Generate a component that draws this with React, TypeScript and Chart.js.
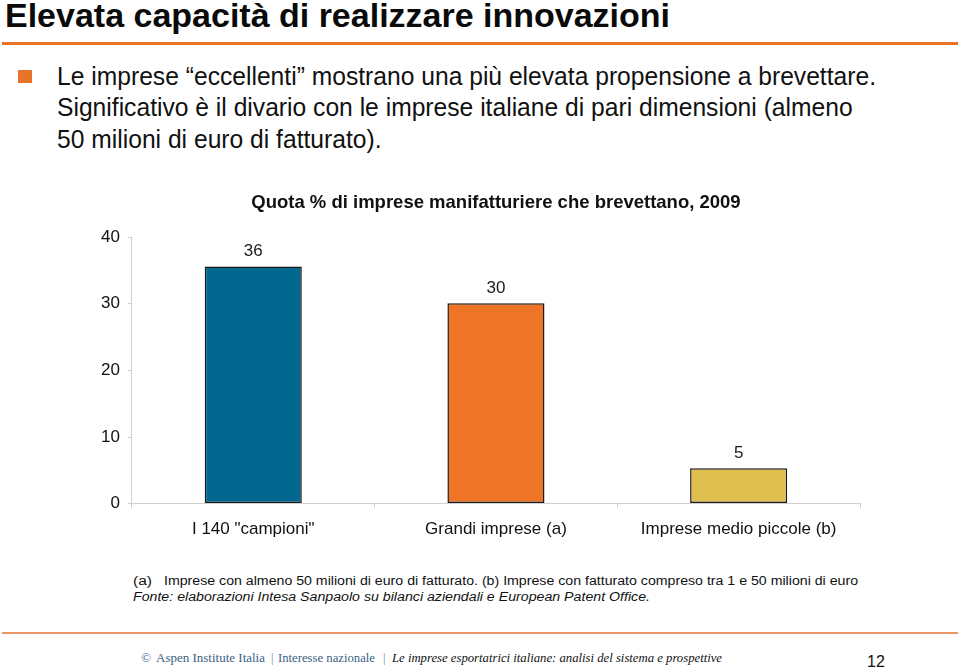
import React, { useEffect, useRef } from "react";
import { Chart, registerables } from "chart.js";

Chart.register(...registerables);

// ---- data ----
const categories = ['I 140 "campioni"', "Grandi imprese (a)", "Imprese medio piccole (b)"];
const values = [35.6, 30.1, 5.3];
const valueLabels = ["36", "30", "5"];
const barColors = ["#02688F", "#EF7526", "#DFBF50"];
const yTicks = [0, 10, 20, 30, 40];
const chartTitle = "Quota % di imprese manifatturiere che brevettano, 2009";
const pageTitle = "Elevata capacità di realizzare innovazioni";
const bulletLines = [
  "Le imprese \u201Ceccellenti\u201D mostrano una più elevata propensione a brevettare.",
  "Significativo è il divario con le imprese italiane di pari dimensioni (almeno",
  "50 milioni di euro di fatturato).",
];
const noteA = "(a)";
const noteText =
  "Imprese con almeno 50 milioni di euro di fatturato. (b) Imprese con fatturato compreso tra 1 e 50 milioni di euro";
const sourceText =
  "Fonte: elaborazioni Intesa Sanpaolo su bilanci aziendali e European Patent Office.";
const footerParts = [
  "\u00A9",
  "Aspen Institute Italia",
  "|",
  "Interesse nazionale",
  "|",
  "Le imprese esportatrici italiane: analisi del sistema e prospettive",
];
const pageNumber = "12";

const SANS = '"Liberation Sans", Arial, Helvetica, sans-serif';
const SERIF = '"Liberation Serif", "Times New Roman", serif';

let mctx: CanvasRenderingContext2D | null = null;
function measure(text: string, font: string): number {
  if (!mctx) mctx = document.createElement("canvas").getContext("2d");
  if (!mctx) return text.length * 8;
  mctx.font = font;
  return mctx.measureText(text).width;
}

type FitProps = {
  text: string;
  x: number;
  baseline: number;
  size: number;
  width?: number;
  scale?: number;
  bold?: boolean;
  italic?: boolean;
  family?: string;
  color?: string;
};

function fontString(size: number, bold?: boolean, italic?: boolean, family = SANS) {
  return `${italic ? "italic " : ""}${bold ? "bold " : ""}${size}px ${family}`;
}

function FitText({ text, x, baseline, size, width, scale, bold, italic, family = SANS, color = "#111" }: FitProps) {
  let sx = scale ?? 1;
  if (width !== undefined) {
    const w = measure(text, fontString(size, bold, italic, family));
    sx = w > 0 ? width / w : 1;
  }
  const top = baseline - (family === SERIF ? 0.8375 : 0.8465) * size;
  return (
    <div
      style={{
        position: "absolute",
        left: x,
        top,
        fontFamily: family,
        fontSize: size,
        lineHeight: `${size}px`,
        fontWeight: bold ? "bold" : "normal",
        fontStyle: italic ? "italic" : "normal",
        color,
        whiteSpace: "nowrap",
        transform: `scaleX(${sx})`,
        transformOrigin: "left top",
      }}
    >
      {text}
    </div>
  );
}

function BarChart() {
  const ref = useRef<HTMLCanvasElement | null>(null);
  useEffect(() => {
    if (!ref.current) return;
    const labelPlugin = {
      id: "valueLabels",
      afterDatasetsDraw(chart: any) {
        const ctx = chart.ctx;
        const meta = chart.getDatasetMeta(0);
        ctx.save();
        ctx.font = `17px ${SANS}`;
        ctx.fillStyle = "#1a1a1a";
        ctx.textAlign = "center";
        ctx.textBaseline = "middle";
        meta.data.forEach((el: any, i: number) => {
          ctx.fillText(valueLabels[i], el.x, el.y - 15);
        });
        ctx.restore();
      },
    };
    const chart = new Chart(ref.current, {
      type: "bar",
      data: {
        labels: categories,
        datasets: [
          {
            data: values,
            backgroundColor: barColors,
            borderColor: "#1a1a1a",
            borderWidth: 1.5,
            borderSkipped: false,
            barPercentage: 0.5,
            categoryPercentage: 0.8,
          },
        ],
      },
      options: {
        responsive: false,
        animation: false,
        devicePixelRatio: 1,
        layout: { padding: { left: 93, right: 100, top: 12, bottom: 11 } },
        plugins: {
          legend: { display: false },
          tooltip: { enabled: false },
          title: {
            display: true,
            text: chartTitle,
            fullSize: false,
            color: "#111",
            font: { family: SANS, size: 18.5, weight: "bold", lineHeight: 1.2 },
            padding: { top: 0, bottom: 23 },
          },
        },
        scales: {
          x: {
            grid: { offset: true, drawOnChartArea: false, drawTicks: true, tickLength: 4, color: "#cfcfcf" },
            border: { color: "#cfcfcf" },
            ticks: { color: "#111", font: { family: SANS, size: 17 }, padding: 12, maxRotation: 0, autoSkip: false },
          },
          y: {
            min: 0,
            max: 40,
            afterBuildTicks: (s: any) => {
              s.ticks = yTicks.map((v) => ({ value: v }));
            },
            ticks: { color: "#111", font: { family: SANS, size: 17 }, padding: 8 },
            grid: { drawOnChartArea: false, drawTicks: true, tickLength: 4, color: "#cfcfcf" },
            border: { color: "#cfcfcf" },
          },
        },
      },
      plugins: [labelPlugin],
    } as any);
    return () => chart.destroy();
  }, []);
  return (
    <canvas
      ref={ref}
      width={960}
      height={383}
      style={{ position: "absolute", left: 0, top: 180, width: 960, height: 383 }}
    />
  );
}

export default function App() {
  const bulletSize = 25;
  const bulletScale = 819 / measure(bulletLines[0], fontString(bulletSize));
  const bulletBaselines = [85, 116.5, 148];
  const footerX = [141, 156, 271, 278, 383, 392];
  const footerW = [10, 109, 3, 97, 3, 330];
  return (
    <div
      style={{
        position: "absolute",
        left: 0,
        top: 0,
        width: 960,
        height: 672,
        background: "#ffffff",
        overflow: "hidden",
      }}
    >
      <FitText text={pageTitle} x={5} baseline={27} size={33} width={665} bold color="#0a0a0a" />
      <div style={{ position: "absolute", left: 2, top: 42, width: 956, height: 3, background: "#E8732A" }} />
      <div style={{ position: "absolute", left: 18, top: 70, width: 14, height: 13, background: "#E8732A" }} />
      {bulletLines.map((t, i) => (
        <FitText key={i} text={t} x={57} baseline={bulletBaselines[i]} size={bulletSize} scale={bulletScale} color="#111" />
      ))}
      <BarChart />
      <FitText text={noteA} x={133} baseline={585.5} size={12.5} width={19} color="#111" />
      <FitText text={noteText} x={164} baseline={585.5} size={12.5} width={694} color="#111" />
      <FitText text={sourceText} x={133} baseline={601.5} size={12.5} width={517} italic color="#111" />
      <div style={{ position: "absolute", left: 2, top: 632, width: 956, height: 2, background: "#E9976A" }} />
      {footerParts.map((t, i) => (
        <FitText
          key={i}
          text={t}
          x={footerX[i]}
          baseline={662.5}
          size={12.5}
          width={i === 2 || i === 4 ? undefined : footerW[i]}
          italic={i === 5}
          family={SERIF}
          color={i === 5 ? "#111" : i === 2 || i === 4 ? "#7a8ea6" : "#3A5F86"}
        />
      ))}
      <FitText text={pageNumber} x={867} baseline={668} size={16} color="#111" />
    </div>
  );
}
